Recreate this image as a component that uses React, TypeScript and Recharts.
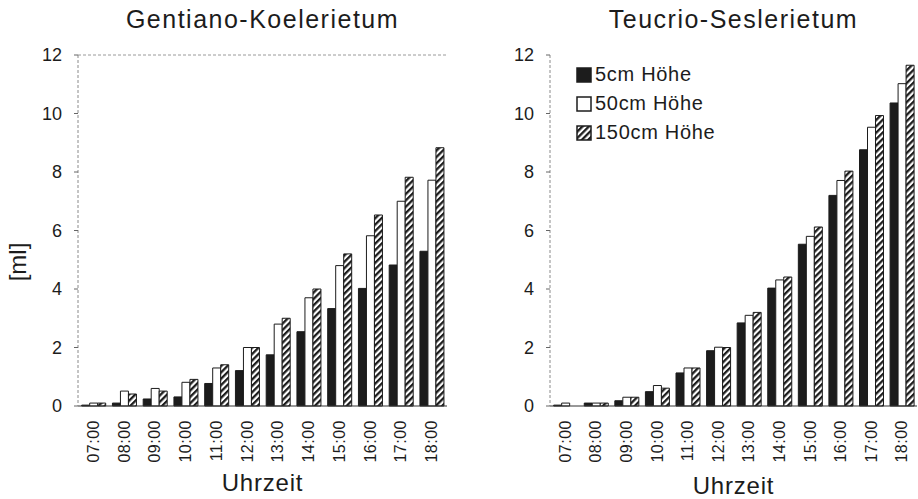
import { BarChart, Bar, XAxis, YAxis, Legend, ReferenceLine } from "recharts";

const hours = ["07:00", "08:00", "09:00", "10:00", "11:00", "12:00", "13:00", "14:00", "15:00", "16:00", "17:00", "18:00"];
const yTicks = [0, 2, 4, 6, 8, 10, 12];
const seriesNames = ["5cm Höhe", "50cm Höhe", "150cm Höhe"];

// Gentiano-Koelerietum
const gentianoLow = [0.03, 0.1, 0.24, 0.31, 0.77, 1.21, 1.75, 2.54, 3.33, 4.02, 4.82, 5.29];
const gentianoMid = [0.1, 0.51, 0.6, 0.81, 1.3, 2.0, 2.8, 3.7, 4.8, 5.82, 7.0, 7.72];
const gentianoHigh = [0.1, 0.41, 0.51, 0.91, 1.41, 2.0, 3.0, 4.0, 5.2, 6.53, 7.82, 8.83];

// Teucrio-Seslerietum
const teucrioLow = [0.03, 0.1, 0.18, 0.49, 1.13, 1.89, 2.84, 4.03, 5.53, 7.2, 8.76, 10.36];
const teucrioMid = [0.1, 0.1, 0.3, 0.7, 1.3, 2.01, 3.1, 4.31, 5.8, 7.71, 9.53, 11.02];
const teucrioHigh = [0, 0.1, 0.3, 0.61, 1.3, 2.0, 3.2, 4.41, 6.12, 8.03, 9.93, 11.65];

const FONT = "'Liberation Sans', Arial, sans-serif";
const INK = "#1c1c1c";

function HourTick(props: any) {
  const { x, y, payload } = props;
  return (
    <text
      x={x}
      y={y}
      transform={`rotate(-90 ${x} ${y})`}
      textAnchor="end"
      dy="0.35em"
      fontSize={16}
      fill={INK}
      fontFamily={FONT}
      letterSpacing={0.5}
    >
      {payload.value}
    </text>
  );
}

function HatchPattern({ id }: { id: string }) {
  return (
    <defs>
      <pattern id={id} patternUnits="userSpaceOnUse" width={4.5} height={4.5} patternTransform="rotate(45)">
        <rect width={4.5} height={4.5} fill="#fff" />
        <rect x={0} y={0} width={2.3} height={4.5} fill={INK} />
      </pattern>
    </defs>
  );
}

function LegendBox({ hatchId }: { hatchId: string }) {
  const fills = [INK, "#fff", `url(#${hatchId})`];
  return (
    <div style={{ fontFamily: FONT, fontSize: 20, color: INK, letterSpacing: 0.7 }}>
      {seriesNames.map((name, i) => (
        <div key={name} style={{ display: "flex", alignItems: "center", height: 29 }}>
          <svg width={16} height={16} style={{ marginRight: 3 }}>
            <rect x={1} y={1} width={14} height={14} fill={fills[i]} stroke={INK} strokeWidth={1.5} />
          </svg>
          <span>{name}</span>
        </div>
      ))}
    </div>
  );
}

interface PanelProps {
  title: string;
  low: number[];
  mid: number[];
  high: number[];
  left: number;
  width: number;
  yAxisWidth: number;
  rightMargin: number;
  hatchId: string;
  frame?: boolean;
  legend?: boolean;
  xLabelTop: number;
}

function Panel({ title, low, mid, high, left, width, yAxisWidth, rightMargin, hatchId, frame, legend, xLabelTop }: PanelProps) {
  const data = hours.map((h, i) => ({ hour: h, low: low[i], mid: mid[i], high: high[i] }));
  const plotLeft = yAxisWidth;
  const plotWidth = width - yAxisWidth - rightMargin;

  return (
    <div style={{ position: "absolute", left, top: 0, width, height: 499 }}>
      <div
        style={{
          position: "absolute",
          left: plotLeft - 20,
          width: plotWidth + 40,
          top: 5,
          textAlign: "center",
          fontFamily: FONT,
          fontSize: 25,
          letterSpacing: 1.5,
          color: INK,
        }}
      >
        {title}
      </div>
      <BarChart
        width={width}
        height={499}
        data={data}
        margin={{ top: 55, right: rightMargin, left: 0, bottom: 0 }}
        barCategoryGap="12%"
        barGap={0}
      >
        <HatchPattern id={hatchId} />
        <XAxis
          dataKey="hour"
          height={93}
          interval={0}
          tickLine={false}
          tickSize={6}
          tickMargin={8}
          axisLine={{ stroke: "#333", strokeWidth: 1 }}
          tick={(p: any) => <HourTick {...p} />}
        />
        <YAxis
          width={yAxisWidth}
          domain={[0, 12]}
          ticks={yTicks}
          interval={0}
          tickSize={4}
          tickMargin={12}
          axisLine={{ stroke: "#8a8a8a", strokeDasharray: "3 2" }}
          tickLine={{ stroke: "#666" }}
          tick={{ fontSize: 18, fill: INK, fontFamily: FONT }}
        />
        {frame && (
          <YAxis
            yAxisId="frame"
            orientation="right"
            width={0}
            domain={[0, 12]}
            tick={false}
            tickLine={false}
            axisLine={{ stroke: "#9a9a9a", strokeDasharray: "3 2" }}
          />
        )}
        {frame && <ReferenceLine y={12} stroke="#9a9a9a" strokeDasharray="3 2" />}
        {legend && (
          <Legend
            layout="vertical"
            align="center"
            verticalAlign="middle"
            wrapperStyle={{ left: 116, top: 60, width: "auto", height: "auto" }}
            content={() => <LegendBox hatchId={hatchId} />}
          />
        )}
        <Bar dataKey="low" name={seriesNames[0]} fill={INK} stroke={INK} strokeWidth={1} isAnimationActive={false} />
        <Bar dataKey="mid" name={seriesNames[1]} fill="#fff" stroke={INK} strokeWidth={1} isAnimationActive={false} />
        <Bar dataKey="high" name={seriesNames[2]} fill={`url(#${hatchId})`} stroke={INK} strokeWidth={1} isAnimationActive={false} />
      </BarChart>
      <div
        style={{
          position: "absolute",
          left: plotLeft,
          width: plotWidth,
          top: xLabelTop,
          textAlign: "center",
          fontFamily: FONT,
          fontSize: 24,
          letterSpacing: 0.8,
          color: INK,
        }}
      >
        Uhrzeit
      </div>
    </div>
  );
}

export default function App() {
  return (
    <div style={{ position: "absolute", left: 0, top: 0, width: 918, height: 499, background: "#fff", overflow: "hidden" }}>
      <div
        style={{
          position: "absolute",
          left: 18,
          top: 262,
          transform: "translate(-50%, -50%) rotate(-90deg)",
          fontFamily: FONT,
          fontSize: 24,
          color: INK,
          whiteSpace: "nowrap",
        }}
      >
        [ml]
      </div>
      <Panel
        title="Gentiano-Koelerietum"
        low={gentianoLow}
        mid={gentianoMid}
        high={gentianoHigh}
        left={0}
        width={460}
        yAxisWidth={78}
        rightMargin={13}
        hatchId="hatchLeft"
        frame
        xLabelTop={469}
      />
      <Panel
        title="Teucrio-Seslerietum"
        low={teucrioLow}
        mid={teucrioMid}
        high={teucrioHigh}
        left={460}
        width={458}
        yAxisWidth={90}
        rightMargin={1}
        hatchId="hatchRight"
        legend
        xLabelTop={472}
      />
    </div>
  );
}
